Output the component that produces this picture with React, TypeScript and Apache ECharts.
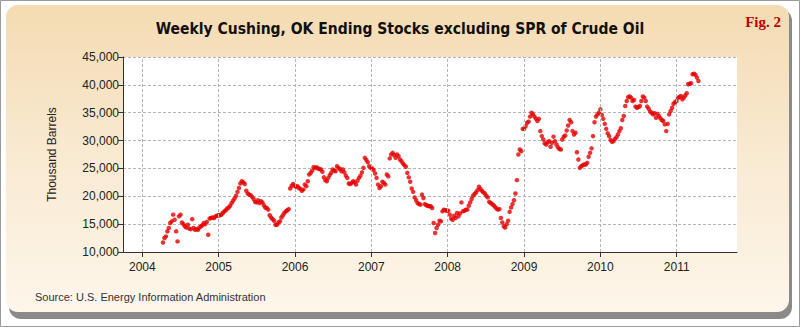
import React, { useEffect, useRef } from "react";
import * as echarts from "echarts";

// Weekly Cushing, OK ending stocks excluding SPR (thousand barrels), weekly from 2004-04-09
const firstWeek = "2004-04-09";

const stocks2004 = [
  11700, 12500, 12800, 13700, 14300, 15200, 15500, 16700, 15800, 13700,
  11900, 16400, 16700, 15300, 15000, 14600, 14400, 14900, 14200, 14100,
  15900, 14300, 14000, 14100, 14000, 14400, 14600, 14800, 15200, 15000,
  15400, 13100, 16000, 16100, 16200, 16100, 16400, 16500, 16600,
];
const stocks2005 = [
  16600, 16700, 17000, 17300, 17500, 17800, 18000, 18300, 18800, 19200,
  19600, 20100, 20800, 21500, 22300, 22700, 22500, 22200, 21000, 20500,
  20300, 20200, 19900, 19500, 19000, 18900, 19300, 18800, 19100, 18900,
  18400, 18000, 17900, 17600, 16600, 16200, 15900, 15600, 14900, 14900,
  15300, 15500, 16200, 16600, 17000, 17300, 17500, 17700, 21400, 21900,
  22200, 21900,
];
const stocks2006 = [
  21700, 21800, 21500, 21300, 21000, 21200, 22100, 21800, 22700, 23900,
  24200, 24600, 25200, 25100, 25200, 25000, 24900, 24800, 24400, 23400,
  22900, 22700, 23300, 23800, 24200, 24800, 24600, 24500, 25400, 25100,
  24900, 24500, 24800, 24300, 23700, 23300, 22300, 22200, 22400, 22700,
  22500, 22100, 22800, 23300, 23700, 24300, 25100, 26900, 26500, 26100,
  25400, 25100,
];
const stocks2007 = [
  25000, 24700, 24100, 23300, 22100, 21500, 21800, 22600, 22400, 22100,
  23900, 23600, 26800, 27500, 27800, 27400, 26900, 27500, 27200, 26600,
  26300, 25900, 25600, 25300, 24200, 23400, 22600, 21400, 20800, 19800,
  19300, 18800, 18600, 18500, 20300, 19700, 18600, 18400, 18300, 18200,
  18200, 17900, 15200, 13400, 14300, 14900, 15600, 15500, 17300, 17600,
  17500, 17400,
];
const stocks2008 = [
  17400, 16700, 16000, 15800, 16500, 16100, 17000, 16400, 16900, 18900,
  17300, 17400, 17600, 17600, 18300, 18900, 19500, 20100, 20400, 20700,
  21100, 21700, 21300, 21000, 20700, 20500, 20100, 19800, 19000, 18800,
  18600, 18400, 18100, 17800, 17600, 17700, 16100, 15300, 14600, 14400,
  15000, 15600, 17200, 18000, 18600, 19300, 20500, 22900, 27500, 28400,
  28100, 32100,
];
const stocks2009 = [
  32100, 32600, 33200, 33400, 34300, 35000, 34700, 34300, 33900, 33500,
  33900, 31700, 30800, 30200, 29500, 29300, 29700, 29900, 28900, 29600,
  30700, 29900, 29300, 28800, 28500, 28400, 30200, 30700, 30900, 31800,
  32700, 33700, 33300, 31700, 31100, 31400, 27900, 26600, 25100, 25400,
  25600, 25700, 25700, 26000, 27100, 27800, 28600, 30800, 33300, 34300,
  34700, 35000,
];
const stocks2010 = [
  35600, 34600, 33900, 33000, 32100, 31300, 30800, 30100, 29800, 29900,
  30300, 30600, 31100, 31700, 32200, 33700, 34400, 36200, 37100, 37800,
  37900, 37700, 37100, 37300, 36100, 35900, 36000, 36200, 37100, 37900,
  37700, 37100, 36100, 35700, 35200, 35000, 34700, 34900, 34100, 34800,
  34400, 34000, 33700, 33500, 32900, 31700, 33000, 34700, 35300, 35900,
  36600, 36900, 37100,
];
const stocks2011 = [
  37700, 37800, 38000, 37400, 37700, 38100, 38500, 40100, 40200, 40300,
  41900, 42000, 41800, 41300, 40700,
];

const yearTicks = [2004, 2005, 2006, 2007, 2008, 2009, 2010, 2011];

const titleText = "Weekly Cushing, OK Ending Stocks excluding SPR of Crude Oil";
const yAxisTitle = "Thousand Barrels";
const sourceText = "Source: U.S. Energy Information Administration";
const figText = "Fig. 2";

function toDecimalYear(ms: number): number {
  const d = new Date(ms);
  const y = d.getUTCFullYear();
  const s = Date.UTC(y, 0, 1);
  const e = Date.UTC(y + 1, 0, 1);
  return y + (ms - s) / (e - s);
}

export default function App() {
  const ref = useRef<HTMLDivElement>(null);
  useEffect(() => {
    document.body.style.margin = "0";
    if (!ref.current) return;
    const chart = echarts.init(ref.current, undefined, { renderer: "svg" });
    const all = [
      ...stocks2004, ...stocks2005, ...stocks2006, ...stocks2007,
      ...stocks2008, ...stocks2009, ...stocks2010, ...stocks2011,
    ];
    const start = Date.parse(firstWeek + "T00:00:00Z");
    const data = all.map((v, i) => [toDecimalYear(start + i * 7 * 86400000), v]);
    const narrow = "'Liberation Sans Narrow', 'Arial Narrow', 'DejaVu Sans Condensed', sans-serif";
    const sans = "'Liberation Sans', Arial, sans-serif";
    const gridDash = { color: "#b4b4b4", type: [3, 2] as any, width: 1 };

    chart.setOption({
      animation: false,
      backgroundColor: "#ffffff",
      title: {
        text: titleText,
        left: "center",
        top: 16,
        textStyle: { fontFamily: narrow, fontSize: 15.5, fontWeight: "bold", color: "#111" },
      },
      graphic: [
        {
          type: "rect", z: -30, silent: true,
          shape: { x: 0.5, y: 0.5, width: 799, height: 326 },
          style: { fill: "#ffffff", stroke: "#9a9a9a", lineWidth: 1 },
        },
        {
          type: "rect", z: -25, silent: true,
          shape: { x: 9, y: 9, width: 783, height: 310, r: 12 },
          style: { fill: "#8a8a8a" },
        },
        {
          type: "rect", z: -20, silent: true,
          shape: { x: 6, y: 5, width: 783, height: 307, r: 12 },
          style: {
            fill: new echarts.graphic.LinearGradient(0, 0, 0, 1, [
              { offset: 0, color: "#f4dbb2" },
              { offset: 0.5, color: "#f9ead2" },
              { offset: 1, color: "#fdf6ea" },
            ]),
          },
        },
        {
          type: "text", z: 5, silent: true,
          x: 781, y: 22,
          style: {
            text: figText, fill: "#c00000", font: "bold 15px 'Liberation Serif', 'Times New Roman', serif",
            align: "right", verticalAlign: "middle",
          },
        },
        {
          type: "text", z: 5, silent: true,
          x: 35, y: 297,
          style: {
            text: sourceText, fill: "#333", font: "11px " + sans,
            align: "left", verticalAlign: "middle",
          },
        },
      ],
      grid: {
        left: 123, top: 57, width: 614, height: 195,
        show: true, backgroundColor: "#ffffff", borderWidth: 0,
      },
      xAxis: {
        type: "value",
        min: 2003.747,
        max: 2011.79,
        splitNumber: 8,
        axisLine: { show: true, lineStyle: { color: "#333", width: 1 } },
        axisTick: { show: true, length: 5, lineStyle: { color: "#333" } },
        axisLabel: {
          showMinLabel: false, showMaxLabel: false,
          color: "#222", fontSize: 12, fontFamily: sans, margin: 9,
          formatter: (v: number) => (yearTicks.includes(Math.round(v * 1000) / 1000) ? String(v) : ""),
        },
        splitLine: { show: false },
      },
      yAxis: {
        type: "value",
        min: 10000,
        max: 45000,
        interval: 5000,
        name: yAxisTitle,
        nameLocation: "middle",
        nameGap: 65,
        nameTextStyle: { fontFamily: sans, fontSize: 12, color: "#222" },
        axisLine: { show: true, lineStyle: { color: "#333", width: 1 } },
        axisTick: { show: true, length: 5, lineStyle: { color: "#333" } },
        axisLabel: {
          color: "#222", fontSize: 12, fontFamily: sans, margin: 4,
          formatter: (v: number) => v.toLocaleString("en-US"),
        },
        splitLine: { show: true, lineStyle: gridDash },
      },
      series: [
        {
          type: "scatter",
          data: [],
          z: 1,
          silent: true,
          markLine: {
            silent: true,
            symbol: "none",
            label: { show: false },
            lineStyle: gridDash,
            data: yearTicks.map((y) => ({ xAxis: y })),
          },
        },
        {
          type: "scatter",
          data,
          z: 3,
          symbol: "circle",
          symbolSize: 4.5,
          itemStyle: { color: "#e60000" },
        },
      ],
    });
    return () => chart.dispose();
  }, []);
  return <div ref={ref} style={{ width: 800, height: 327, position: "absolute", left: 0, top: 0 }} />;
}
